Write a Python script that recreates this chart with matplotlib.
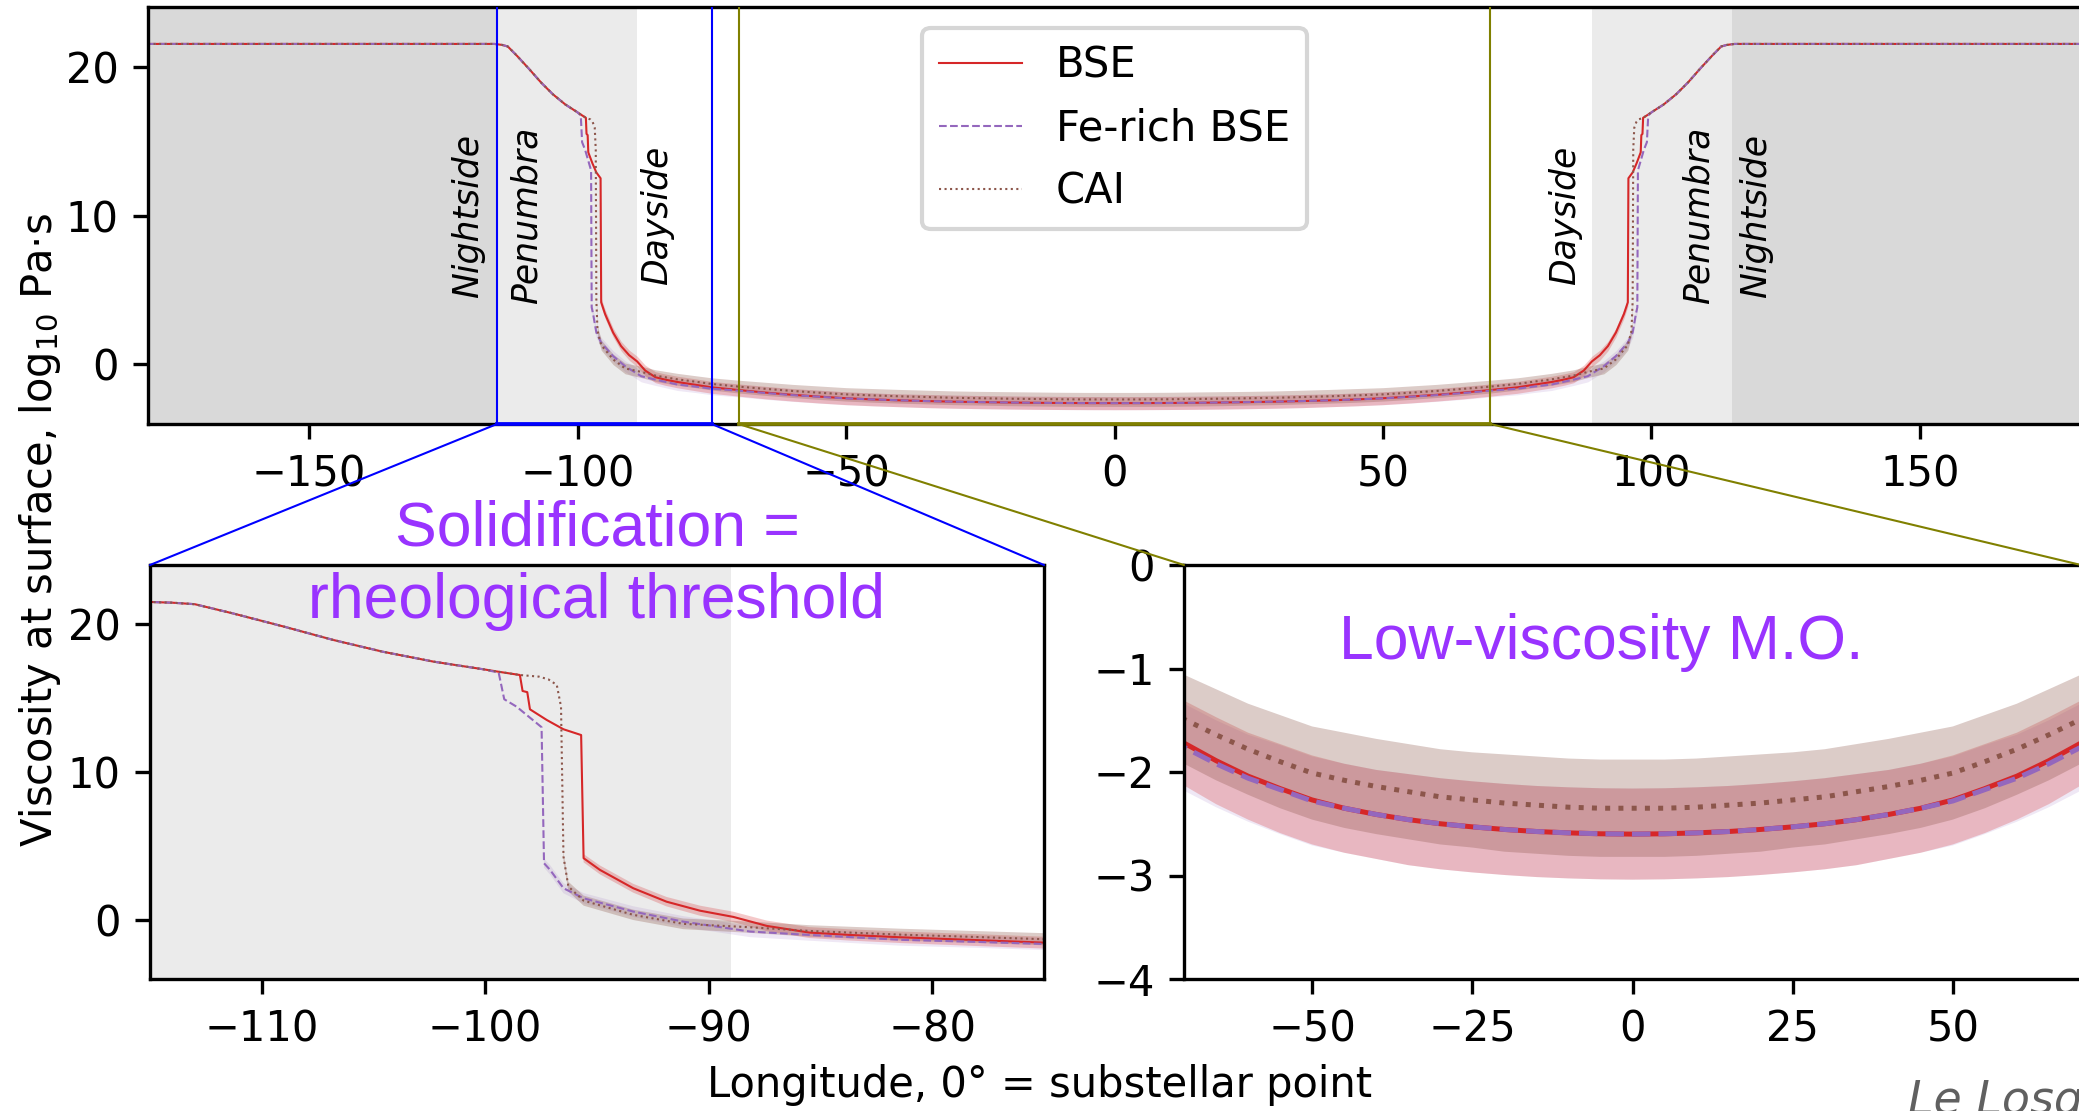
import numpy as np
import matplotlib.pyplot as plt
from matplotlib.patches import ConnectionPatch

plt.rcParams['font.size'] = 10

# western half of the profile (longitude <= 0); the eastern half is its mirror image
shared_lon = [-180, -115.5, -115, -114, -113, -111.3, -109, -106.8, -104.6, -102.3, -100.1]
shared_visc = [21.52, 21.52, 21.5, 21.45, 21.35, 20.73, 19.83, 18.93, 18.14, 17.46, 16.95]

bse_lon = [-99.4, -98.45, -98.33, -98.12, -98.0, -97.25, -96.5, -95.71, -95.6, -94.87,
           -93.38, -91.89, -90.39, -88.9, -87.4, -85.5, -83.7, -81.4, -78,
           -75, -70, -65, -60, -55, -50, -45, -40, -35, -30, -25, -20, -15, -10, -5, 0]
bse_visc = [16.78, 16.56, 15.48, 15.4, 14.24, 13.52, 12.89, 12.5, 4.17, 3.38,
            2.14, 1.23, 0.62, 0.2, -0.41, -0.86, -1.02, -1.18, -1.37,
            -1.54, -1.72, -1.89, -2.04, -2.16, -2.27, -2.35, -2.41, -2.46, -2.50,
            -2.53, -2.555, -2.575, -2.588, -2.597, -2.6]
bse_err = [0, 0, 0, 0, 0, 0, 0, 0, 0.28, 0.3,
           0.3, 0.32, 0.34, 0.35, 0.36, 0.37, 0.38, 0.39, 0.4,
           0.4, 0.41, 0.42, 0.42, 0.43, 0.43, 0.43, 0.43, 0.44, 0.44,
           0.44, 0.44, 0.44, 0.44, 0.44, 0.44]

fe_lon = [-99.4, -99.15, -98.6, -97.48, -97.37, -97.1, -96.5, -95.6, -93.38, -91.14,
          -88.15, -85.5, -81.4, -78,
          -75, -70, -65, -60, -55, -50, -45, -40, -35, -30, -25, -20, -15, -10, -5, 0]
fe_visc = [16.72, 14.92, 14.42, 13.03, 3.83, 3.38, 2.14, 1.46, 0.56, -0.12,
           -0.79, -1.02, -1.35, -1.49,
           -1.63, -1.76, -1.92, -2.06, -2.17, -2.28, -2.35, -2.41, -2.46, -2.50,
           -2.53, -2.555, -2.575, -2.588, -2.597, -2.6]
fe_err = [0, 0, 0, 0, 0.3, 0.32, 0.34, 0.35, 0.36, 0.37,
          0.38, 0.39, 0.4, 0.4,
          0.41, 0.42, 0.42, 0.42, 0.43, 0.43, 0.43, 0.43, 0.44, 0.44,
          0.44, 0.44, 0.44, 0.44, 0.44, 0.44]

cai_lon = [-99.4, -98.45, -97.6, -97.18, -96.8, -96.61, -96.5, -96.28, -95.6, -93.38,
           -91.14, -88.15, -85.5, -81.4, -78,
           -75, -70, -65, -60, -55, -50, -45, -40, -35, -30, -25, -20, -15, -10, -5, 0]
cai_visc = [16.78, 16.56, 16.45, 16.27, 15.89, 14.42, 4.28, 2.25, 1.3, 0.34,
            -0.27, -0.5, -0.75, -1.0, -1.16,
            -1.31, -1.49, -1.64, -1.78, -1.90, -2.01, -2.08, -2.14, -2.19, -2.24,
            -2.27, -2.30, -2.32, -2.34, -2.35, -2.35]
cai_err = [0, 0, 0, 0, 0, 0, 0.3, 0.33, 0.34, 0.35,
           0.36, 0.38, 0.39, 0.4, 0.4,
           0.41, 0.43, 0.44, 0.44, 0.45, 0.45, 0.46, 0.46, 0.46, 0.46,
           0.46, 0.47, 0.47, 0.47, 0.47, 0.47]

labels = ['BSE', 'Fe-rich BSE', 'CAI']
colors = ['tab:red', 'tab:purple', 'tab:brown']
styles = ['-', '--', ':']
band_alpha = [0.25, 0.15, 0.3]

# day/night regions
night_edge = 115
day_edge = 89


def full_profile(lon, visc, err):
    x = np.array(shared_lon + lon, dtype=float)
    y = np.array(shared_visc + visc, dtype=float)
    e = np.array([0] * len(shared_lon) + err, dtype=float)
    x = np.concatenate([x, -x[::-1][1:]])
    y = np.concatenate([y, y[::-1][1:]])
    e = np.concatenate([e, e[::-1][1:]])
    return x, y, e


series = [full_profile(bse_lon, bse_visc, bse_err),
          full_profile(fe_lon, fe_visc, fe_err),
          full_profile(cai_lon, cai_visc, cai_err)]


def draw(ax, lw):
    # bands first (purple under red, brown on top), then lines
    for i in [1, 0, 2]:
        x, y, e = series[i]
        ax.fill_between(x, y - e, y + e, color=colors[i], alpha=band_alpha[i], lw=0)
    for i in range(3):
        x, y, e = series[i]
        ax.plot(x, y, styles[i], color=colors[i], lw=lw, label=labels[i])


fig = plt.figure(figsize=(2079 / 300, 1111 / 300), dpi=300)
W, H = 2079, 1111
ax_top = fig.add_axes([148 / W, 1 - 424 / H, (2081 - 148) / W, 417 / H])
ax_bl = fig.add_axes([150 / W, 1 - 979 / H, 894 / W, 414 / H])
ax_br = fig.add_axes([1184 / W, 1 - 979 / H, 897 / W, 414 / H])

# top: whole planet
ax_top.axvspan(-180, -night_edge, color='#d9d9d9', lw=0)
ax_top.axvspan(-night_edge, -day_edge, color='#ebebeb', lw=0)
ax_top.axvspan(day_edge, night_edge, color='#ebebeb', lw=0)
ax_top.axvspan(night_edge, 180, color='#d9d9d9', lw=0)
draw(ax_top, 0.5)
ax_top.set_xlim(-180, 180)
ax_top.set_ylim(-4, 24)
ax_top.set_xticks([-150, -100, -50, 0, 50, 100, 150])
ax_top.set_yticks([0, 10, 20])
ax_top.legend(loc='upper center', fontsize=10)

txt = dict(rotation=90, style='italic', fontsize=8.3, va='center')
ax_top.text(-117.2, 10, 'Nightside', ha='right', **txt)
ax_top.text(-112.6, 10, 'Penumbra', ha='left', **txt)
ax_top.text(-88.4, 10, 'Dayside', ha='left', **txt)
ax_top.text(87.1, 10, 'Dayside', ha='right', **txt)
ax_top.text(112, 10, 'Penumbra', ha='right', **txt)
ax_top.text(116.3, 10, 'Nightside', ha='left', **txt)

# bottom left: solidification front
ax_bl.axvspan(-night_edge, -day_edge, color='#ebebeb', lw=0)
draw(ax_bl, 0.5)
ax_bl.set_xlim(-115, -75)
ax_bl.set_ylim(-4, 24)
ax_bl.set_xticks([-110, -100, -90, -80])
ax_bl.set_yticks([0, 10, 20])

# bottom right: dayside magma ocean
draw(ax_br, 1.2)
ax_br.set_xlim(-70, 70)
ax_br.set_ylim(-4, 0)
ax_br.set_xticks([-50, -25, 0, 25, 50])
ax_br.set_yticks([0, -1, -2, -3, -4])

# zoom indicators
for (x0, x1), c, axz in [((-115, -75), 'blue', ax_bl), ((-70, 70), 'olive', ax_br)]:
    for xv in (x0, x1):
        ax_top.axvline(xv, color=c, lw=0.5, zorder=4.99)
    ax_top.plot([x0, x1], [-4, -4], color=c, lw=0.9, clip_on=False, zorder=5)
    for xv, corner in [(x0, (0, 1)), (x1, (1, 1))]:
        con = ConnectionPatch(xyA=(xv, -4), coordsA=ax_top.transData,
                              xyB=corner, coordsB=axz.transAxes,
                              color=c, lw=0.5)
        fig.add_artist(con)

purple = '#9933ff'
fig.text(597 / W, 1 - 565 / H, 'Solidification =\nrheological threshold', ha='center',
         va='center', color=purple, fontsize=15, family='Liberation Sans',
         linespacing=1.3, zorder=10)
fig.text(1601 / W, 1 - 643 / H, 'Low-viscosity M.O.', ha='center', va='center',
         color=purple, fontsize=15, family='Liberation Sans', zorder=10)

fig.text(40 / W, 1 - 530 / H, 'Viscosity at surface, log$_{10}$ Pa·s', rotation=90,
         ha='center', va='center', fontsize=10)
fig.text(0.5, 1 - 1085 / H, 'Longitude, 0° = substellar point', ha='center', va='center',
         fontsize=10)
# signature, cut by the figure edge as in the original
fig.text(1908 / W, -0.003, 'Le Losq et al.', style='italic', color='#606060',
         fontsize=11, va='baseline', ha='left')

fig.savefig('out.png', dpi=300)
